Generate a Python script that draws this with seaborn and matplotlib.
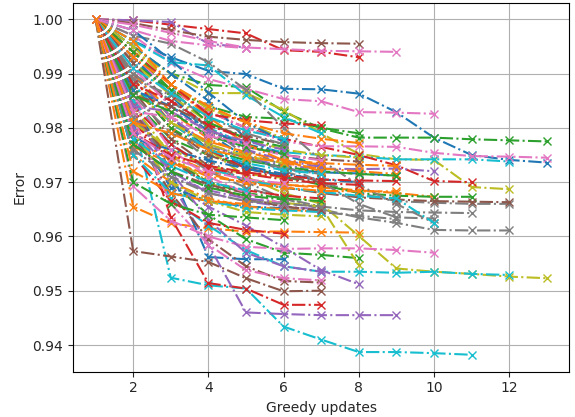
import pandas as pd
import numpy as np
import matplotlib
matplotlib.use("Agg")
import matplotlib.pyplot as plt
import seaborn as sns


# error after each greedy update, one list per run, grouped by line colour
blue_runs = [
    [1.0, 0.996, 0.993, 0.9905, 0.9899, 0.9872, 0.9871, 0.9863, 0.9829, 0.9782, 0.9750, 0.9741, 0.9736],
    [1.0, 0.985, 0.972, 0.9562, 0.9558, 0.9558],
    [1.0, 0.990, 0.982, 0.976, 0.973, 0.9715, 0.9705, 0.970],
    [1.0, 0.993, 0.986, 0.979, 0.9745, 0.9725, 0.9718, 0.9716, 0.9712],
    [1.0, 0.980, 0.969, 0.9665, 0.9655, 0.9652],
    [1.0, 0.995, 0.990, 0.985, 0.978, 0.975, 0.973],
    [1.0, 0.998, 0.9925, 0.9865, 0.981, 0.9775],
    [1.0, 0.978, 0.976, 0.974, 0.9725, 0.9712],
    [1.0, 0.987, 0.984, 0.9795, 0.977],
]
orange_runs = [
    [1.0, 0.9655, 0.9624, 0.9615, 0.9609, 0.9609, 0.9608, 0.9607],
    [1.0, 0.982, 0.975, 0.972, 0.9705, 0.9695, 0.969, 0.9685, 0.968, 0.9673],
    [1.0, 0.978, 0.974, 0.971, 0.970, 0.9695, 0.9692],
    [1.0, 0.990, 0.983, 0.978, 0.975, 0.9735, 0.9725, 0.972, 0.9715],
    [1.0, 0.975, 0.970, 0.967, 0.9655, 0.965, 0.9645],
    [1.0, 0.987, 0.981, 0.9775, 0.9755, 0.974, 0.9735, 0.9732, 0.973],
    [1.0, 0.996, 0.988, 0.982, 0.977, 0.974, 0.972],
    [1.0, 0.9765, 0.9735, 0.9715, 0.9698, 0.969, 0.9684, 0.9683, 0.9683],
    [1.0, 0.993, 0.988, 0.984, 0.981, 0.979, 0.978, 0.9772],
    [1.0, 0.972, 0.968, 0.9665, 0.966],
    [1.0, 0.981, 0.979, 0.976, 0.9745, 0.9738, 0.9733],
]
green_runs = [
    [1.0, 0.995, 0.990, 0.9879, 0.9875, 0.983, 0.9799, 0.9782, 0.9782, 0.9782, 0.9779, 0.9777, 0.9775],
    [1.0, 0.985, 0.978, 0.975, 0.973, 0.971, 0.9695, 0.968, 0.9675, 0.9673, 0.9673],
    [1.0, 0.979, 0.970, 0.964, 0.9595, 0.957, 0.9566, 0.956],
    [1.0, 0.992, 0.987, 0.984, 0.982, 0.9817, 0.980, 0.979],
    [1.0, 0.982, 0.974, 0.970, 0.968, 0.967, 0.9665],
    [1.0, 0.988, 0.980, 0.976, 0.974, 0.9728, 0.972, 0.9715, 0.9712],
    [1.0, 0.970, 0.966, 0.964, 0.9635, 0.963],
    [1.0, 0.994, 0.987, 0.981, 0.978, 0.9765],
    [1.0, 0.977, 0.972, 0.969, 0.9675, 0.9668],
    [1.0, 0.986, 0.983, 0.9785, 0.9765, 0.9752],
]
red_runs = [
    [1.0, 0.9998, 0.999, 0.9982, 0.9974, 0.9943, 0.9940, 0.9930],
    [1.0, 0.985, 0.9635, 0.9514, 0.9504, 0.9474, 0.9474],
    [1.0, 0.993, 0.987, 0.983, 0.980, 0.978, 0.9765, 0.975, 0.9731, 0.9702, 0.9700],
    [1.0, 0.981, 0.974, 0.970, 0.9685, 0.9675, 0.967],
    [1.0, 0.989, 0.981, 0.976, 0.9725, 0.9712, 0.9705, 0.9703, 0.9702],
    [1.0, 0.975, 0.9665, 0.9625, 0.9612, 0.9605],
    [1.0, 0.994, 0.988, 0.9825, 0.9814, 0.9808, 0.9805],
    [1.0, 0.984, 0.977, 0.9725, 0.9715, 0.9705, 0.9698, 0.9695],
    [1.0, 0.979, 0.975, 0.973, 0.9718, 0.971],
    [1.0, 0.988, 0.985, 0.9805, 0.978],
]
purple_runs = [
    [1.0, 0.9998, 0.9995, 0.9955, 0.9948],
    [1.0, 0.985, 0.970, 0.9585, 0.9460, 0.9457, 0.9455, 0.9455, 0.9455],
    [1.0, 0.990, 0.982, 0.977, 0.9745, 0.973, 0.9725, 0.9724, 0.9725, 0.9720],
    [1.0, 0.978, 0.970, 0.9655, 0.962, 0.958, 0.9538, 0.9512],
    [1.0, 0.983, 0.972, 0.963, 0.957, 0.9545, 0.9535],
    [1.0, 0.992, 0.984, 0.979, 0.976, 0.974, 0.9728],
    [1.0, 0.980, 0.972, 0.968, 0.9665, 0.9655, 0.965],
    [1.0, 0.976, 0.971, 0.9685, 0.967, 0.9662],
    [1.0, 0.984, 0.983, 0.9795, 0.9775, 0.976],
]
brown_runs = [
    [1.0, 0.9993, 0.998, 0.9968, 0.9962, 0.9958, 0.9956, 0.9955],
    [1.0, 0.9573, 0.9563, 0.9553, 0.9523, 0.9499, 0.9500],
    [1.0, 0.987, 0.978, 0.973, 0.970, 0.969, 0.968, 0.9672, 0.9668, 0.9665, 0.9664, 0.9663],
    [1.0, 0.979, 0.968, 0.9595, 0.9545, 0.9518, 0.9515],
    [1.0, 0.988, 0.980, 0.975, 0.9725, 0.971, 0.970],
    [1.0, 0.992, 0.984, 0.979, 0.977, 0.975, 0.9742, 0.9738],
    [1.0, 0.983, 0.974, 0.9695, 0.967, 0.9655, 0.9648],
    [1.0, 0.977, 0.972, 0.9695, 0.968],
    [1.0, 0.986, 0.984, 0.9805, 0.9785, 0.977],
]
pink_runs = [
    [1.0, 0.999, 0.9975, 0.996, 0.9948, 0.9945, 0.9942, 0.9941, 0.9940],
    [1.0, 0.997, 0.992, 0.989, 0.9872, 0.9853, 0.9849, 0.9829, 0.9828, 0.9826],
    [1.0, 0.993, 0.987, 0.983, 0.980, 0.9775, 0.9766, 0.9766, 0.9765, 0.9754, 0.9748, 0.9747, 0.9745],
    [1.0, 0.9692, 0.9629, 0.960, 0.9581, 0.9577, 0.9578, 0.9578, 0.9575, 0.9570],
    [1.0, 0.982, 0.966, 0.9585, 0.9538, 0.9523, 0.9519],
    [1.0, 0.991, 0.984, 0.979, 0.9765, 0.975, 0.974],
    [1.0, 0.998, 0.996, 0.9952, 0.9947],
    [1.0, 0.986, 0.976, 0.971, 0.968, 0.966],
    [1.0, 0.979, 0.9745, 0.972, 0.9705, 0.9698],
    [1.0, 0.983, 0.982, 0.9785, 0.977],
]
gray_runs = [
    [1.0, 0.993, 0.986, 0.980, 0.975, 0.972, 0.970, 0.968, 0.9665, 0.9662, 0.966, 0.9660],
    [1.0, 0.988, 0.980, 0.974, 0.970, 0.967, 0.965, 0.9635, 0.9625, 0.9612, 0.9611, 0.9611],
    [1.0, 0.985, 0.977, 0.972, 0.969, 0.967, 0.9655, 0.9648, 0.9645, 0.9644, 0.9643],
    [1.0, 0.990, 0.985, 0.980, 0.976, 0.973, 0.970, 0.966, 0.9635, 0.9633],
    [1.0, 0.997, 0.9955, 0.9921, 0.987, 0.980, 0.974, 0.9695, 0.966, 0.9625],
    [1.0, 0.982, 0.974, 0.9695, 0.967, 0.9655, 0.9645, 0.9638, 0.9632],
    [1.0, 0.986, 0.979, 0.9765, 0.9745, 0.9725, 0.9715],
    [1.0, 0.976, 0.971, 0.968, 0.9665, 0.966, 0.9655],
    [1.0, 0.989, 0.986, 0.982, 0.979, 0.977],
]
olive_runs = [
    [1.0, 0.994, 0.990, 0.9864, 0.9864, 0.9833, 0.979, 0.9752, 0.9742, 0.9741, 0.9691, 0.9687],
    [1.0, 0.989, 0.982, 0.976, 0.971, 0.968, 0.966, 0.9601, 0.9541, 0.9535, 0.9531, 0.9526, 0.9523],
    [1.0, 0.984, 0.975, 0.970, 0.9668, 0.9662, 0.9655, 0.9547],
    [1.0, 0.992, 0.986, 0.981, 0.978, 0.976, 0.975, 0.9745],
    [1.0, 0.979, 0.970, 0.9665, 0.9645, 0.964, 0.9637],
    [1.0, 0.995, 0.988, 0.9835, 0.981, 0.978],
    [1.0, 0.981, 0.976, 0.973, 0.9715, 0.9708],
    [1.0, 0.987, 0.981, 0.977, 0.9748, 0.9735],
]
cyan_runs = [
    [1.0, 0.9815, 0.9524, 0.9510, 0.9504, 0.9434, 0.9410, 0.9387, 0.9387, 0.9385, 0.9382],
    [1.0, 0.990, 0.985, 0.980, 0.977, 0.9755, 0.975, 0.9747, 0.9742, 0.9742, 0.9742, 0.9738],
    [1.0, 0.980, 0.967, 0.962, 0.9575, 0.9545, 0.9535, 0.9535, 0.9533, 0.9535, 0.9531, 0.9529],
    [1.0, 0.996, 0.9921, 0.9915, 0.986, 0.982, 0.979],
    [1.0, 0.985, 0.977, 0.9725, 0.9705, 0.969, 0.9682, 0.9675, 0.967, 0.9625],
    [1.0, 0.975, 0.968, 0.9665, 0.9652, 0.9648, 0.9645],
    [1.0, 0.988, 0.981, 0.976, 0.9735, 0.9722, 0.9715],
    [1.0, 0.978, 0.973, 0.970, 0.9685],
    [1.0, 0.991, 0.9865, 0.982, 0.9795, 0.978],
]

groups = [blue_runs, orange_runs, green_runs, red_runs, purple_runs,
          brown_runs, pink_runs, gray_runs, olive_runs, cyan_runs]
colors = sns.color_palette("tab10", 10)

# interleave the groups so the drawing order follows the colour cycle
rows = []
palette = {}
run_id = 0
for i in range(max(len(g) for g in groups)):
    for g, c in zip(groups, colors):
        if i < len(g):
            for step, err in enumerate(g[i], start=1):
                rows.append({"run": run_id, "step": step, "error": err})
            palette[run_id] = c
            run_id += 1
df = pd.DataFrame(rows)

sns.set_style("ticks")
plt.rcParams["font.family"] = ["DejaVu Sans"]

fig, ax = plt.subplots(figsize=(5.75, 4.17), dpi=100)
sns.lineplot(data=df, x="step", y="error", hue="run", palette=palette,
             estimator=None, sort=False, marker="x", linestyle="-.",
             linewidth=1.5, markersize=6, legend=False, ax=ax)
for line in ax.lines:
    line.set_markeredgecolor(line.get_color())
    line.set_markeredgewidth(1.0)

ax.grid(True, color="#b0b0b0", linewidth=0.8)
ax.set_xlabel("Greedy updates", fontsize=10)
ax.set_ylabel("Error", fontsize=10)
ax.set_xticks([2, 4, 6, 8, 10, 12])
ax.set_xlim(0.4, 13.6)
ax.tick_params(labelsize=10)
for s in ax.spines.values():
    s.set_color("black")

fig.subplots_adjust(left=0.127, right=0.99, top=0.994, bottom=0.109)
fig.savefig("out.png", dpi=100)
